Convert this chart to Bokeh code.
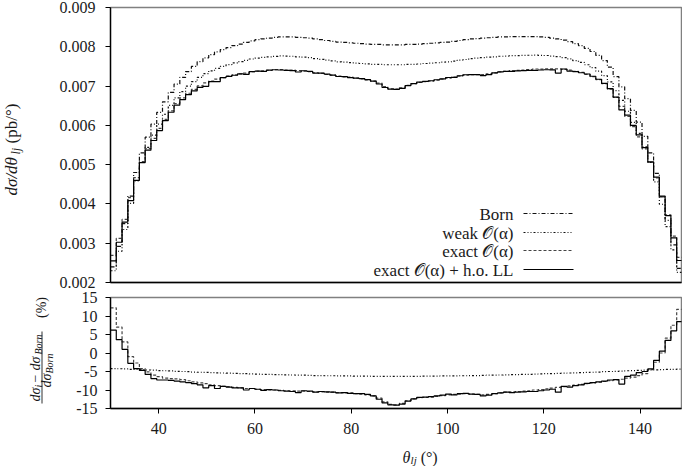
import numpy as np
from bokeh.plotting import figure
from bokeh.layouts import column, row
from bokeh.models import FixedTicker, PrintfTickFormatter, Label, Arrow, Range1d
from bokeh.core.properties import value
from bokeh.embed import file_html
from bokeh.resources import INLINE

# ---------------- data ----------------
bin_start = 30.0
bin_width = 1.2

born = [0.00240, 0.00292, 0.00350, 0.00420, 0.00480, 0.00530, 0.00570, 0.00603, 0.00633, 0.00660,
        0.00684, 0.00705, 0.00722, 0.00737, 0.00750, 0.00762, 0.00772, 0.00780, 0.00787, 0.00793,
        0.00798, 0.00803, 0.00807, 0.00811, 0.00815, 0.00818, 0.00820, 0.00822, 0.00824, 0.00825,
        0.00825, 0.00825, 0.00824, 0.00823, 0.00822, 0.00820, 0.00818, 0.00816, 0.00814, 0.00812,
        0.00811, 0.00810, 0.00809, 0.00808, 0.00807, 0.00806, 0.00806, 0.00805, 0.00805, 0.00805,
        0.00805, 0.00806, 0.00806, 0.00807, 0.00808, 0.00809, 0.00810, 0.00811, 0.00812, 0.00814,
        0.00816, 0.00818, 0.00820, 0.00821, 0.00822, 0.00823, 0.00824, 0.00825, 0.00825, 0.00826,
        0.00826, 0.00826, 0.00826, 0.00826, 0.00825, 0.00824, 0.00822, 0.00820, 0.00817, 0.00813,
        0.00808, 0.00803, 0.00796, 0.00788, 0.00778, 0.00765, 0.00748, 0.00724, 0.00698, 0.00668,
        0.00638, 0.00608, 0.00572, 0.00530, 0.00478, 0.00418, 0.00358, 0.00296, 0.00236]

# relative corrections (%) with respect to Born, as in the lower panel
delta_weak = [-4.20, -4.25, -4.30, -4.40, -4.45, -4.50, -4.60, -4.65, -4.75, -4.80,
              -4.85, -4.95, -5.00, -5.05, -5.15, -5.20, -5.25, -5.30, -5.35, -5.40,
              -5.45, -5.50, -5.55, -5.60, -5.65, -5.70, -5.75, -5.80, -5.85, -5.85,
              -5.90, -5.95, -6.00, -6.00, -6.05, -6.10, -6.10, -6.15, -6.15, -6.20,
              -6.20, -6.20, -6.25, -6.25, -6.25, -6.30, -6.30, -6.30, -6.30, -6.30,
              -6.30, -6.30, -6.30, -6.30, -6.25, -6.25, -6.25, -6.20, -6.20, -6.20,
              -6.15, -6.15, -6.10, -6.10, -6.05, -6.00, -6.00, -5.95, -5.90, -5.85,
              -5.85, -5.80, -5.75, -5.70, -5.65, -5.60, -5.55, -5.50, -5.45, -5.40,
              -5.35, -5.30, -5.25, -5.20, -5.15, -5.05, -5.00, -4.95, -4.90, -4.80,
              -4.75, -4.70, -4.65, -4.60, -4.55, -4.50, -4.45, -4.40, -4.35]

delta_exact = [12.2, 7.0, 3.0, -1.0, -2.7, -4.2, -5.1, -6.0, -6.4, -6.8,
               -6.9, -7.0, -7.2, -7.5, -7.8, -8.1, -8.3, -8.6, -8.8, -9.0,
               -9.1, -9.3, -9.4, -9.6, -9.6, -9.8, -9.9, -10.0, -10.0, -10.1,
               -10.2, -10.2, -10.3, -10.3, -10.4, -10.5, -10.5, -10.6, -10.6, -10.7,
               -10.8, -10.8, -11.0, -11.1, -11.3, -11.6, -12.2, -13.2, -13.9, -14.0,
               -13.6, -12.9, -12.4, -12.1, -12.0, -11.9, -11.7, -11.5, -11.3, -11.2,
               -11.1, -11.0, -11.1, -11.2, -11.3, -11.2, -11.0, -10.8, -10.6, -10.5,
               -10.4, -10.3, -10.2, -10.0, -9.9, -9.7, -9.5, -9.3, -9.1, -8.9,
               -8.7, -8.5, -8.3, -8.1, -7.9, -7.7, -7.5, -7.3, -7.1, -6.8,
               -6.5, -6.1, -5.6, -4.5, -2.5, 0.0, 4.0, 7.5, 11.8]

delta_ll = [6.2, 3.6, 1.0, -2.8, -4.2, -4.7, -5.8, -6.9, -7.3, -7.3,
            -7.4, -7.6, -7.8, -8.0, -8.3, -8.6, -9.4, -8.8, -9.6, -9.0,
            -9.2, -9.4, -9.4, -10.0, -9.6, -9.8, -10.1, -9.9, -10.0, -10.2,
            -10.3, -10.4, -10.7, -10.2, -10.3, -10.6, -10.4, -10.5, -10.6, -10.8,
            -10.7, -10.9, -11.0, -11.0, -11.2, -11.6, -12.5, -13.5, -14.0, -14.1,
            -13.8, -13.0, -12.4, -12.0, -11.9, -11.8, -11.6, -11.4, -11.1, -11.3,
            -11.0, -10.9, -11.1, -11.2, -11.6, -11.4, -11.0, -10.8, -10.6, -10.7,
            -10.6, -10.5, -10.4, -10.4, -10.2, -10.0, -9.8, -10.6, -9.0, -9.2,
            -8.8, -8.6, -8.2, -8.0, -7.8, -7.6, -7.3, -7.2, -8.4, -6.3,
            -6.0, -5.3, -5.0, -4.3, -2.0, 0.5, 3.4, 6.0, 8.5]

x_ticks = [40, 60, 80, 100, 120, 140]
y1_ticks = [0.002, 0.003, 0.004, 0.005, 0.006, 0.007, 0.008, 0.009]
y2_ticks = [-15, -10, -5, 0, 5, 10, 15]
legend_labels = ["Born", "weak 𝒪(α)", "exact 𝒪(α)", "exact 𝒪(α) + h.o. LL"]

# ---------------- derived series ----------------
n = len(born)
edges = bin_start + bin_width * np.arange(n + 1)
born_a = np.array(born)
weak_a = born_a * (1 + np.array(delta_weak) / 100.0)
exact_a = born_a * (1 + np.array(delta_exact) / 100.0)
ll_a = born_a * (1 + np.array(delta_ll) / 100.0)


def steps(v):
    v = np.asarray(v, dtype=float)
    return np.append(v, v[-1])


# ---------------- geometry (page pixels) ----------------
FONT = "Liberation Serif"
TXT = "#1a1a1a"
X0, X1 = 30.0, 148.6
LABW = 56                    # width of the left label strip
FL, FW = 110, 571            # frame left, frame width
T1, H1 = 7, 275              # top panel frame top, height
T2, H2 = 297, 111            # bottom panel frame top, height
PAGE_H = 466
P1_BOTTOM = 8
P1_H = T1 + H1 + P1_BOTTOM
P2_TOP = T2 - P1_H
P2_BOTTOM = 40
XLAB_TOP = T2 + H2 + P2_BOTTOM


def px2x(px):
    return X0 + (px - FL) / FW * (X1 - X0)


def px2y1(py):
    return 0.009 - (py - T1) / H1 * 0.007


styles = {
    "born": dict(line_dash="4 2 1 2", line_color="#111111"),
    "weak": dict(line_dash="2 2 1 2 1 2", line_color="#111111"),
    "exact": dict(line_dash="3 2", line_color="#444444"),
    "ll": dict(line_dash="solid", line_color="#000000"),
}


def style_axes(p):
    for ax in (p.xaxis[0], p.yaxis[0]):
        ax.axis_line_color = "black"
        ax.axis_line_width = 1.3
        ax.major_tick_line_color = "black"
        ax.major_tick_out = 5
        ax.major_tick_in = 0
        ax.minor_tick_line_color = None
        ax.major_label_text_font = FONT
        ax.major_label_text_font_size = "16px"
        ax.major_label_text_color = TXT
    p.grid.visible = False
    p.outline_line_color = "#808080"
    p.outline_line_width = 1.5
    p.background_fill_color = "white"
    p.border_fill_color = "white"


def add_text(fig, x, y, s, size, italic=False, angle=0.0, align="left", baseline="middle"):
    fig.text(x=[x], y=[y], text=[s], angle=angle, text_font=value(FONT),
             text_font_size=value(f"{size}px"),
             text_font_style="italic" if italic else "normal",
             text_align=align, text_baseline=baseline, text_color=TXT)


# ---------------- top panel ----------------
p1 = figure(frame_width=FW, frame_height=H1, x_range=Range1d(X0, X1),
            y_range=Range1d(0.002, 0.009), output_backend="svg", toolbar_location=None,
            min_border_left=FL - LABW, min_border_right=1, min_border_top=T1,
            min_border_bottom=P1_BOTTOM)
style_axes(p1)
p1.xaxis.ticker = FixedTicker(ticks=[])
p1.xaxis.major_label_text_font_size = "0px"
p1.xaxis.major_tick_out = 0
p1.xaxis.major_label_standoff = 0
p1.yaxis.ticker = FixedTicker(ticks=y1_ticks)
p1.yaxis.formatter = PrintfTickFormatter(format="%.3f")
p1.yaxis.major_label_standoff = 10

w = 1.2
p1.step(edges, steps(born_a), mode="after", line_width=w, **styles["born"])
p1.step(edges, steps(weak_a), mode="after", line_width=w, **styles["weak"])
p1.step(edges, steps(exact_a), mode="after", line_width=w, **styles["exact"])
p1.step(edges, steps(ll_a), mode="after", line_width=w, **styles["ll"])

# legend (text right-aligned, sample line on the right)
leg_rows = [214, 233, 251, 270]
for lab_txt, key, ry in zip(legend_labels, ["born", "weak", "exact", "ll"], leg_rows):
    p1.add_layout(Label(x=px2x(513), y=px2y1(ry), text=lab_txt, text_align="right",
                        text_baseline="middle", text_font=FONT, text_font_size="17px",
                        text_color=TXT))
    p1.add_layout(Arrow(end=None, x_start=px2x(523), y_start=px2y1(ry - 1), x_end=px2x(573),
                        y_end=px2y1(ry - 1), line_width=1.2, **styles[key]))

# ---------------- bottom panel ----------------
p2 = figure(frame_width=FW, frame_height=H2, x_range=p1.x_range,
            y_range=Range1d(-15, 15), output_backend="svg", toolbar_location=None,
            min_border_left=FL - LABW, min_border_right=1, min_border_top=P2_TOP,
            min_border_bottom=P2_BOTTOM)
style_axes(p2)
p2.xaxis.ticker = FixedTicker(ticks=x_ticks)
p2.xaxis.major_label_standoff = 9
p2.yaxis.ticker = FixedTicker(ticks=y2_ticks)
p2.yaxis.formatter = PrintfTickFormatter(format="%d")
p2.yaxis.major_label_standoff = 8

p2.step(edges, steps(delta_weak), mode="after", line_width=w, **styles["weak"])
p2.step(edges, steps(delta_exact), mode="after", line_width=w, **styles["exact"])
p2.step(edges, steps(delta_ll), mode="after", line_width=w, **styles["ll"])

# ---------------- left label strip (page pixel coordinates) ----------------
lab = figure(width=LABW, height=PAGE_H, x_range=Range1d(0, LABW), y_range=Range1d(PAGE_H, 0),
             output_backend="svg", toolbar_location=None, x_axis_location=None,
             y_axis_location=None, min_border=0)
lab.outline_line_color = None
lab.grid.visible = False
ang = np.pi / 2
# top panel: d sigma / d theta_lj (pb/deg)
add_text(lab, 11, 195, "dσ/dθ", 17, italic=True, angle=ang)
add_text(lab, 15, 154, "lj", 12, italic=True, angle=ang)
add_text(lab, 11, 143, "(pb/°)", 17, angle=ang)
# bottom panel: (d sigma_i - d sigma_Born)/d sigma_Born (%)
add_text(lab, 35, 401, "dσ", 14, italic=True, angle=ang)
add_text(lab, 38, 387, "i", 10, italic=True, angle=ang)
add_text(lab, 35, 383, " − dσ", 14, italic=True, angle=ang)
add_text(lab, 38, 354, "Born", 10, italic=True, angle=ang)
lab.segment(x0=[41.5], y0=[403], x1=[41.5], y1=[331], line_color=TXT, line_width=0.9)
add_text(lab, 46, 387, "dσ", 14, italic=True, angle=ang)
add_text(lab, 49, 373, "Born", 10, italic=True, angle=ang)
add_text(lab, 41, 307, "(%)", 14, angle=ang, align="center")

# ---------------- bottom x-label strip ----------------
xl = figure(width=682 - LABW, height=PAGE_H - XLAB_TOP, x_range=Range1d(LABW, 682),
            y_range=Range1d(PAGE_H, XLAB_TOP), output_backend="svg", toolbar_location=None,
            x_axis_location=None, y_axis_location=None, min_border=0)
xl.outline_line_color = None
xl.grid.visible = False
add_text(xl, 376, XLAB_TOP, "θ", 16, italic=True, baseline="top")
add_text(xl, 385, XLAB_TOP + 5, "lj", 11, italic=True, baseline="top")
add_text(xl, 396, XLAB_TOP, "(°)", 16, baseline="top")

layout = row(lab, column(p1, p2, xl, spacing=0), spacing=0)
open("out.html", "w").write(file_html(layout, INLINE))
